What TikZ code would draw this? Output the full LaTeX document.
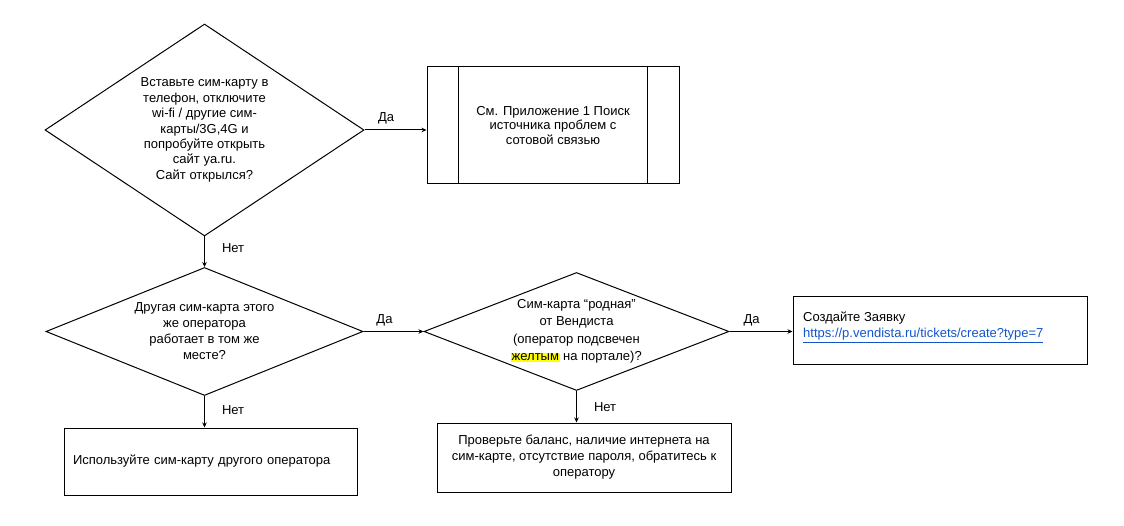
\documentclass[tikz,border=0pt]{standalone}
\usepackage{fontspec}
\setmainfont{Liberation Sans}
\usetikzlibrary{shapes.geometric,arrows.meta}
\definecolor{linkblue}{HTML}{1155CC}
\definecolor{marker}{HTML}{FFFF00}
\newcommand{\marked}[1]{{\setlength{\fboxsep}{0.5pt}\colorbox{marker}{#1}}}

\begin{document}
\begin{tikzpicture}[x=1pt,y=-1pt,
        font={\fontsize{13}{16}\selectfont},
        decision/.style={diamond,draw,line width=1pt,inner sep=0pt,align=center},
        process/.style={rectangle,draw,line width=1pt,inner sep=0pt,align=center},
        flow/.style={-{Stealth[length=5pt,width=4.5pt]},line width=1pt},
        answer/.style={inner sep=0pt},
        yes/.style={answer,pos=0.35,above=5pt},
        no/.style={answer,pos=0.45,right=17pt}]
        \useasboundingbox (0,0) rectangle (1124,526);

        % Decisions
        \node[decision,minimum width=319pt,minimum height=212pt,aspect=1.5,
            font={\fontsize{13}{15.4}\selectfont}] (tryPhone) at (204.5,130)
            {Вставьте сим-карту в\\телефон, отключите\\wi-fi / другие сим-\\карты/3G,4G и\\попробуйте открыть\\сайт ya.ru.\\Сайт открылся?};
        \node[decision,minimum width=317pt,minimum height=128pt,aspect=2.48] (sameOp) at (204.5,331.5)
            {Другая сим-карта этого\\же оператора\\работает в том же\\месте?};
        \node[decision,minimum width=305pt,minimum height=118pt,aspect=2.58,
            font={\fontsize{13}{17.5}\selectfont}] (nativeSim) at (576.5,331.5)
            {Сим-карта “родная”\\от Вендиста\\(оператор подсвечен\\\marked{желтым} на портале)?};

        % Actions
        \node[process,minimum width=252pt,minimum height=117pt,
            font={\fontsize{13}{14.5}\selectfont}] (appendix) at (553,125.5)
            {См. Приложение 1 Поиск\\источника проблем с\\сотовой связью};
        \draw[line width=1pt] ([xshift=32pt]appendix.north west) -- ([xshift=32pt]appendix.south west);
        \draw[line width=1pt] ([xshift=-32pt]appendix.north east) -- ([xshift=-32pt]appendix.south east);
        \node[process,minimum width=293pt,minimum height=67pt,text width=275pt,
            inner xsep=9pt,align=left] (otherOp) at (210.5,461.5)
            {Используйте сим-карту другого оператора};
        \node[process,minimum width=294pt,minimum height=69pt] (checkBal) at (584,457.5)
            {Проверьте баланс, наличие интернета на\\сим-карте, отсутствие пароля, обратитесь к\\оператору};
        \node[process,minimum width=294pt,minimum height=68pt] (ticket) at (940,331) {};
        \node[anchor=north west,inner sep=0pt,align=left] (ticketText) at (803,312)
            {Создайте Заявку\\\textcolor{linkblue}{\underline{https://p.vendista.ru/tickets/create?type=7}}};

        % Connectors
        \draw[flow] (tryPhone.east) -- node[yes] {Да} (tryPhone.east -| appendix.west);
        \draw[flow] (tryPhone.south) -- node[no,pos=0.39] {Нет} (sameOp.north);
        \draw[flow] (sameOp.east) -- node[yes] {Да} (nativeSim.west);
        \draw[flow] (sameOp.south) -- node[no] {Нет} (sameOp.south |- otherOp.north);
        \draw[flow] (nativeSim.east) -- node[yes] {Да} (nativeSim.east -| ticket.west);
        \draw[flow] (nativeSim.south) -- node[no,pos=0.5] {Нет} (nativeSim.south |- checkBal.north);
    \end{tikzpicture}
\end{document}
